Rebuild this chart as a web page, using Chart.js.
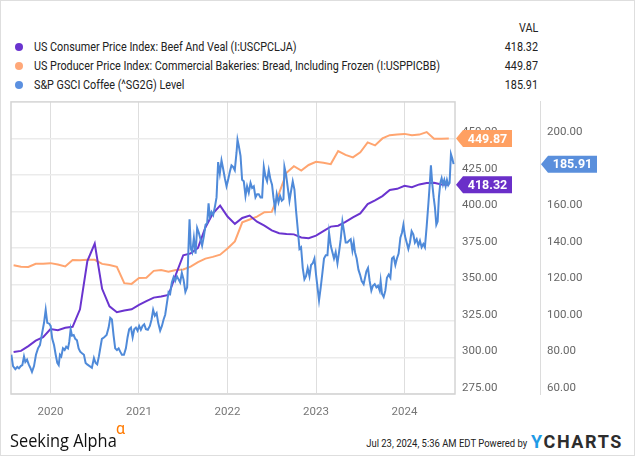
<!DOCTYPE html>
<html>
<head>
<meta charset="utf-8">
<script src="https://cdn.jsdelivr.net/npm/chart.js@4.4.1/dist/chart.umd.min.js"></script>
<style>
  html, body { margin: 0; padding: 0; background: #fff; }
  #wrap { position: relative; width: 635px; height: 456px; overflow: hidden; font-family: Roboto, sans-serif; }
  #border { position: absolute; left: 0; top: 0; width: 635px; height: 456px; box-sizing: border-box; border: 1px solid #dedede; pointer-events: none; }
  #chartBox { position: absolute; left: 0; top: 88px; width: 635px; height: 340px; }
  .lg { position: absolute; left: 34px; font-size: 13px; line-height: 16px; color: #222; white-space: nowrap; transform: scaleX(0.83); transform-origin: left center; }
  .val { position: absolute; right: 97px; font-size: 13px; line-height: 16px; color: #222; white-space: nowrap; transform: scaleX(0.83); transform-origin: right center; }
  .dot { position: absolute; left: 15px; width: 8px; height: 8px; border-radius: 50%; }
  #sa { position: absolute; left: 10px; top: 428px; font-family: "Open Sans", sans-serif; font-size: 19px; line-height: 24px; color: #111; transform: scaleX(0.86); transform-origin: left center; white-space: nowrap; }
  #alpha { position: absolute; left: 116px; top: 420px; font-size: 16px; line-height: 18px; color: #ff7a00; }
  #stamp { position: absolute; right: 108px; top: 437px; font-size: 11px; line-height: 14px; color: #222; white-space: nowrap; transform: scaleX(0.86); transform-origin: right center; }
  #yc { position: absolute; left: 531px; top: 432px; font-size: 18px; line-height: 20px; font-weight: bold; letter-spacing: 1.6px; color: #2d2d2d; white-space: nowrap; }
  #yc span { color: #1e9be6; }
</style>
</head>
<body>
<div id="wrap">
  <div class="val" style="top:20px">VAL</div>

  <div class="dot" style="top:43px;background:#6a34cf"></div>
  <div class="lg" style="top:39px">US Consumer Price Index: Beef And Veal (I:USCPCLJA)</div>
  <div class="val" style="top:39px">418.32</div>

  <div class="dot" style="top:62px;background:#ffa879"></div>
  <div class="lg" style="top:58px">US Producer Price Index: Commercial Bakeries: Bread, Including Frozen (I:USPPICBB)</div>
  <div class="val" style="top:58px">449.87</div>

  <div class="dot" style="top:81px;background:#5b90e0"></div>
  <div class="lg" style="top:77px">S&amp;P GSCI Coffee (^SG2G) Level</div>
  <div class="val" style="top:77px">185.91</div>

  <div id="chartBox"><canvas id="myChart" width="635" height="340"></canvas></div>

  <div id="sa">Seeking Alpha</div>
  <div id="alpha">&alpha;</div>
  <div id="stamp">Jul 23, 2024, 5:36 AM EDT Powered by</div>
  <div id="yc"><span>Y</span>CHARTS</div>
  <div id="border"></div>
</div>

<script>
// monthly series (left axis)
const months = ["2019-08","2019-09","2019-10","2019-11","2019-12","2020-01","2020-02","2020-03","2020-04","2020-05",
  "2020-06","2020-07","2020-08","2020-09","2020-10","2020-11","2020-12","2021-01","2021-02","2021-03",
  "2021-04","2021-05","2021-06","2021-07","2021-08","2021-09","2021-10","2021-11","2021-12","2022-01",
  "2022-02","2022-03","2022-04","2022-05","2022-06","2022-07","2022-08","2022-09","2022-10","2022-11",
  "2022-12","2023-01","2023-02","2023-03","2023-04","2023-05","2023-06","2023-07","2023-08","2023-09",
  "2023-10","2023-11","2023-12","2024-01","2024-02","2024-03","2024-04","2024-05","2024-06","2024-07"];

const beefCPI = [303.7,304.5,307.8,311.5,313.9,319.5,318.7,320.3,321,333,
  366,378,347,335,331,332.2,333,336,338.6,341,
  341.8,342.8,356.8,370,371.3,375,389,398.6,404,396.5,
  391.5,395.5,397.2,393,390.3,387,385.1,384.5,384.3,382.2,
  381.6,383.4,386.5,389.6,390.2,392.9,396,398.6,405,407.6,
  410.5,414.7,415.5,417.6,416.6,418.5,419.4,419.7,418.4,418.32];

const breadPPI = [363.2,362.2,362.0,364.2,364.2,364.6,363.7,362.3,366.8,366.5,
  366.9,366.9,364.1,363.3,362.1,350.9,350.4,354.4,354.6,359.3,
  359.9,358.8,359.9,360.3,362.2,365.3,367.7,368.9,370.4,374.6,
  379.5,392.5,394.5,396.4,399.5,399.7,412.5,426.5,431,428,
  431.8,434,433.4,432.4,441.3,438.7,437,440.5,447.3,445.2,
  450,452.2,452.6,453.1,452.1,452.6,454.3,449.7,449.8,449.87];

// weekly coffee index (right axis), dates as decimal years
const coffeeDates = [2019.558,2019.577,2019.603,2019.625,2019.644,2019.664,2019.682,2019.701,2019.716,2019.735,
  2019.754,2019.772,2019.791,2019.814,2019.836,2019.859,2019.881,2019.904,2019.927,2019.946,
  2019.964,2019.986,2020.002,2020.020,2020.040,2020.059,2020.077,2020.093,2020.107,2020.122,
  2020.141,2020.160,2020.178,2020.198,2020.212,2020.228,2020.243,2020.262,2020.280,2020.299,
  2020.318,2020.336,2020.356,2020.378,2020.397,2020.415,2020.442,2020.468,2020.491,2020.510,
  2020.528,2020.547,2020.559,2020.581,2020.607,2020.634,2020.657,2020.675,2020.694,2020.713,
  2020.731,2020.751,2020.770,2020.788,2020.807,2020.830,2020.852,2020.871,2020.889,2020.909,
  2020.928,2020.946,2020.965,2020.984,2021.002,2021.021,2021.041,2021.059,2021.078,2021.100,
  2021.123,2021.142,2021.160,2021.179,2021.199,2021.217,2021.239,2021.259,2021.278,2021.296,
  2021.315,2021.334,2021.352,2021.371,2021.391,2021.409,2021.428,2021.447,2021.465,2021.484,
  2021.503,2021.524,2021.544,2021.560,2021.571,2021.586,2021.601,2021.620,2021.639,2021.657,
  2021.676,2021.695,2021.713,2021.733,2021.752,2021.770,2021.786,2021.800,2021.819,2021.838,
  2021.857,2021.876,2021.894,2021.913,2021.932,2021.950,2021.970,2021.989,2022.007,2022.026,
  2022.045,2022.063,2022.082,2022.102,2022.113,2022.128,2022.147,2022.165,2022.184,2022.203,
  2022.221,2022.240,2022.260,2022.278,2022.297,2022.316,2022.334,2022.353,2022.373,2022.391,
  2022.410,2022.429,2022.447,2022.466,2022.486,2022.503,2022.519,2022.537,2022.556,2022.576,
  2022.594,2022.613,2022.632,2022.643,2022.662,2022.681,2022.700,2022.718,2022.737,2022.756,
  2022.774,2022.794,2022.813,2022.831,2022.850,2022.869,2022.887,2022.906,2022.926,2022.944,
  2022.963,2022.982,2023.000,2023.019,2023.034,2023.053,2023.072,2023.090,2023.110,2023.129,
  2023.147,2023.166,2023.185,2023.203,2023.222,2023.242,2023.260,2023.279,2023.298,2023.316,
  2023.335,2023.354,2023.372,2023.392,2023.411,2023.426,2023.440,2023.459,2023.479,2023.497,
  2023.516,2023.538,2023.569,2023.587,2023.606,2023.625,2023.643,2023.663,2023.682,2023.700,
  2023.719,2023.730,2023.745,2023.764,2023.783,2023.801,2023.821,2023.840,2023.858,2023.877,
  2023.896,2023.914,2023.933,2023.953,2023.971,2023.987,2024.005,2024.024,2024.043,2024.061,
  2024.080,2024.099,2024.117,2024.137,2024.156,2024.174,2024.193,2024.212,2024.230,2024.250,
  2024.269,2024.287,2024.298,2024.314,2024.329,2024.343,2024.359,2024.374,2024.388,2024.404,
  2024.419,2024.434,2024.449,2024.464,2024.479,2024.494,2024.509,2024.524,2024.540,2024.554];

const coffeeValues = [81.5,75.3,73.6,74.8,74.1,75.3,75.8,80.6,77.6,78.8,
  76.2,74.4,72.1,75.3,81.5,85.0,86.8,92.9,99.0,106.1,
  99.0,98.5,97.3,90.2,86.8,81.5,77.0,75.8,81.5,80.6,
  85.0,84.1,85.9,85.0,88.5,95.5,92.0,92.3,90.2,89.4,
  85.0,83.2,82.3,81.5,77.0,76.2,75.3,74.4,79.7,77.0,
  76.2,80.6,84.1,90.2,91.1,92.3,96.4,101.7,100.8,92.0,
  85.0,84.1,85.0,83.2,81.5,81.5,85.0,91.1,95.5,96.4,
  91.1,95.5,96.4,94.7,97.3,95.2,97.3,98.2,95.5,95.2,
  97.3,100.8,106.1,102.9,104.3,99.0,94.7,97.3,100.8,103.4,
  109.6,115.8,114.9,121.1,124.0,121.9,124.5,122.8,121.1,126.3,
  122.8,115.9,118.4,141.3,155.7,139.5,137.7,145.6,136.9,150.9,
  148.3,144.8,141.3,146.5,152.7,153.6,164.5,157.1,159.7,158.0,
  162.4,167.7,187.0,180.8,187.9,183.5,178.2,173.8,177.3,181.7,
  185.2,184.4,182.6,192.3,199.3,195.8,190.5,177.3,176.5,168.5,
  173.8,170.3,175.6,172.9,173.8,167.7,169.4,169.4,167.7,167.7,
  184.4,179.1,176.5,182.6,177.3,174.7,167.7,161.5,169.4,165.0,
  168.5,165.9,166.8,184.4,180.0,172.9,165.9,171.2,176.5,172.0,
  160.6,150.1,139.5,140.4,129.0,122.8,124.5,129.0,124.5,130.7,
  131.6,134.2,125.4,117.5,111.3,118.4,126.3,134.2,136.0,136.0,
  148.3,141.3,137.7,134.2,137.7,131.6,137.7,144.8,154.5,149.2,
  143.0,143.0,143.9,144.8,138.6,143.0,137.7,134.2,128.1,125.4,
  121.9,120.2,127.2,129.0,121.9,116.6,119.3,120.2,118.4,119.3,
  116.6,121.9,114.9,113.1,116.6,123.7,125.4,123.7,134.2,135.1,
  130.7,134.2,136.9,145.6,148.3,152.7,146.5,143.0,139.5,143.0,
  149.2,147.4,143.0,144.8,141.3,143.9,140.4,142.2,140.4,151.8,
  164.1,176.5,185.2,174.7,167.7,162.4,152.7,154.5,167.7,175.6,
  178.2,174.7,177.3,173.8,177.3,174.4,175.6,191.4,188.8,185.91];

// axis ticks
const yearTicks = [2020, 2021, 2022, 2023, 2024];
const leftTicks = [275, 300, 325, 350, 375, 400, 425, 450];
const rightTicks = [60, 80, 100, 120, 140, 160, 180, 200];

const purple = "#6a34cf";
const orange = "#ffa570";
const blue = "#4f8ad9";

function monthToYear(m) {
  const p = m.split("-");
  return Number(p[0]) + (Number(p[1]) - 1) / 12;
}

const beefPts = months.map((m, i) => ({ x: monthToYear(m), y: beefCPI[i] }));
const breadPts = months.map((m, i) => ({ x: monthToYear(m), y: breadPPI[i] }));
const coffeePts = coffeeDates.map((d, i) => ({ x: d, y: coffeeValues[i] }));

function drawTag(ctx, xTip, y, text, color) {
  const h = 17, arrow = 7, w = 49;
  ctx.save();
  ctx.beginPath();
  ctx.moveTo(xTip, y);
  ctx.lineTo(xTip + arrow, y - h / 2);
  ctx.lineTo(xTip + arrow + w, y - h / 2);
  ctx.lineTo(xTip + arrow + w, y + h / 2);
  ctx.lineTo(xTip + arrow, y + h / 2);
  ctx.closePath();
  ctx.fillStyle = color;
  ctx.fill();
  ctx.fillStyle = "#fff";
  ctx.font = "bold 12.5px Roboto";
  ctx.textAlign = "center";
  ctx.textBaseline = "middle";
  ctx.fillText(text, xTip + arrow + w / 2, y + 1);
  ctx.restore();
}

const framePlugin = {
  id: "frame",
  beforeDatasetsDraw(chart) {
    const a = chart.chartArea, ctx = chart.ctx;
    ctx.save();
    ctx.strokeStyle = "#d4d4d4";
    ctx.lineWidth = 1.5;
    ctx.strokeRect(a.left, a.top, a.right - a.left, a.bottom - a.top);
    ctx.restore();
  },
  afterDraw(chart) {
    const ctx = chart.ctx;
    const yL = chart.scales.yL, yR = chart.scales.yR;
    const lastBread = breadPPI[breadPPI.length - 1];
    const lastBeef = beefCPI[beefCPI.length - 1];
    const lastCoffee = coffeeValues[coffeeValues.length - 1];
    drawTag(ctx, yL.left + 1, yL.getPixelForValue(lastBread), lastBread.toFixed(2), "#ffa062");
    drawTag(ctx, yL.left + 1, yL.getPixelForValue(lastBeef), lastBeef.toFixed(2), "#6a2fc9");
    drawTag(ctx, yR.left + 1, yR.getPixelForValue(lastCoffee), lastCoffee.toFixed(2), "#5a8fdc");
  }
};

Chart.defaults.font.family = "Roboto";

const ctx = document.getElementById("myChart").getContext("2d");
const myChart = new Chart(ctx, {
  type: "line",
  data: {
    datasets: [
      { label: "S&P GSCI Coffee (^SG2G) Level", data: coffeePts, yAxisID: "yR",
        borderColor: blue, borderWidth: 2, pointRadius: 0, order: 0 },
      { label: "US Consumer Price Index: Beef And Veal (I:USCPCLJA)", data: beefPts, yAxisID: "yL",
        borderColor: purple, borderWidth: 2, pointRadius: 0, order: 1 },
      { label: "US Producer Price Index: Commercial Bakeries: Bread, Including Frozen (I:USPPICBB)", data: breadPts, yAxisID: "yL",
        borderColor: orange, borderWidth: 2, pointRadius: 0, order: 2 }
    ]
  },
  options: {
    responsive: false,
    animation: false,
    layout: { autoPadding: false, padding: { left: 11, top: 3, right: 0, bottom: 4 } },
    plugins: { legend: { display: false }, tooltip: { enabled: false } },
    scales: {
      x: {
        type: "linear",
        min: 2019.554,
        max: 2024.570,
        afterBuildTicks: s => { s.ticks = yearTicks.map(v => ({ value: v })); },
        afterFit: s => { s.height = 30; },
        grid: { color: "#dedede", lineWidth: 1, drawTicks: false },
        border: { display: false },
        ticks: { color: "#777", font: { size: 11.5 }, padding: 11, maxRotation: 0, callback: v => String(v) }
      },
      yL: {
        type: "linear",
        position: "right",
        weight: 0,
        min: 275,
        max: 475,
        afterBuildTicks: s => { s.ticks = leftTicks.map(v => ({ value: v })); },
        afterFit: s => { s.width = 85; },
        grid: { color: "#ebebeb", lineWidth: 1.5, drawTicks: false },
        border: { display: false },
        ticks: { color: "#666", font: { size: 11.5 }, padding: 7, labelOffset: -6, callback: v => v.toFixed(2) }
      },
      yR: {
        type: "linear",
        position: "right",
        weight: 1,
        min: 60,
        max: 220,
        afterBuildTicks: s => { s.ticks = rightTicks.map(v => ({ value: v })); },
        afterFit: s => { s.width = 95; },
        grid: { display: false, drawTicks: false },
        border: { display: true, color: "#dcdcdc", width: 1 },
        ticks: { color: "#666", font: { size: 11.5 }, padding: 7, labelOffset: -6, callback: v => v.toFixed(2) }
      }
    }
  },
  plugins: [framePlugin]
});
</script>
</body>
</html>
